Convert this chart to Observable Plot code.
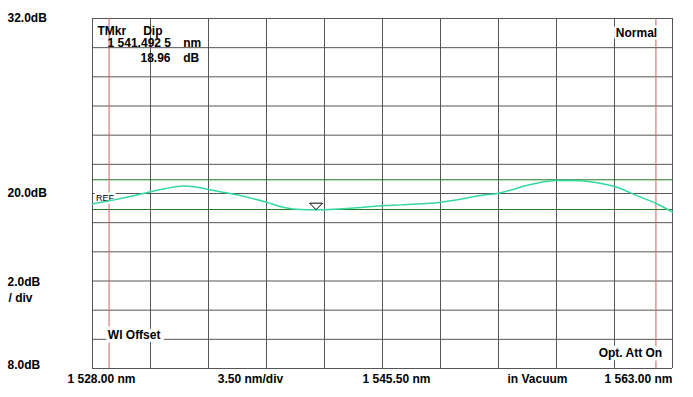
<!DOCTYPE html>
<html>
<head>
<meta charset="utf-8">
<script src="https://cdn.jsdelivr.net/npm/d3@7"></script>
<script src="https://cdn.jsdelivr.net/npm/@observablehq/plot@0.6"></script>
<style>
  html, body { margin: 0; padding: 0; background: #fff; }
  #chart svg { display: block; }
</style>
</head>
<body>
<div id="chart"></div>
<script>
// ---- data ----
const gridWavelengths = [1528, 1531.5, 1535, 1538.5, 1542, 1545.5, 1549, 1552.5, 1556, 1559.5, 1563];
const gridLevels = [8, 10, 12, 14, 16, 18, 20, 22, 24, 26, 28, 30, 32];
const markerLineWavelengths = [1529, 1562];
const levelLinesDb = [20.94, 18.9];

const traceWavelength = [1528.00, 1529.09, 1530.29, 1531.50, 1532.41, 1533.49, 1534.22, 1535.00,
  1536.93, 1538.50, 1539.65, 1540.55, 1541.52, 1542.00, 1543.57, 1545.68, 1546.59, 1549.00,
  1550.21, 1551.41, 1552.50, 1554.43, 1556.00, 1557.45, 1558.35, 1559.50, 1561.07, 1561.98, 1563.00];
const traceLevel = [19.28, 19.52, 19.79, 20.12, 20.34, 20.51, 20.45, 20.27,
  19.86, 19.40, 19.02, 18.90, 18.88, 18.89, 18.99, 19.18, 19.22, 19.40,
  19.61, 19.86, 20.02, 20.62, 20.89, 20.87, 20.75, 20.48, 19.75, 19.33, 18.72];

const dipWavelength = [1541.4925];
const dipLevel = [18.96];

const leftTickValues = [32, 20];
const leftTickLabels = ["32.0dB", "20.0dB"];
const bottomLevelLabel = ["8.0dB"];
const scaleLabels = ["2.0dB", "/ div"];
const bottomLabels = ["1 528.00 nm", "3.50 nm/div", "1 545.50 nm", "in Vacuum", "1 563.00 nm"];
const markerTexts = ["TMkr", "Dip", "1 541.492 5", "nm", "18.96", "dB"];
const statusTexts = ["Normal", "Wl Offset", "Opt. Att On", "REF"];

// ---- build ----
const trace = traceWavelength.map((w, i) => ({w, db: traceLevel[i]}));
const dip = dipWavelength.map((w, i) => ({w, db: dipLevel[i]}));

const GRID = "#555555";
const GREEN = "#1f7a1f";
const TRACE = "#33d9a0";
const RED = "#d06060";

const downTriangle = {
  draw(ctx) {
    ctx.moveTo(-6.5, -6.5);
    ctx.lineTo(6.5, -6.5);
    ctx.lineTo(0, 0);
    ctx.closePath();
  }
};

const bottomDx = [9, 158, 304, 445, 546];

const chart = Plot.plot({
  width: 693,
  height: 397,
  marginLeft: 92,
  marginRight: 21,
  marginTop: 18,
  marginBottom: 29,
  x: {domain: [1528, 1563], axis: null},
  y: {domain: [8, 32], axis: null},
  style: {
    fontFamily: "'Liberation Sans', Arial, sans-serif",
    fontSize: "12px",
    fontWeight: "bold",
    background: "#fff",
    color: "#000"
  },
  marks: [
    Plot.ruleX(gridWavelengths, {stroke: GRID}),
    Plot.ruleY(gridLevels, {stroke: GRID}),
    Plot.ruleY(levelLinesDb, {stroke: GREEN}),
    Plot.ruleX(markerLineWavelengths, {stroke: RED}),
    // REF label with white box
    Plot.text([statusTexts[3]], {frameAnchor: "left", y: () => 20, text: d => d, dx: 3.5, dy: 5,
      textAnchor: "start", fontSize: 9, fontWeight: "normal", stroke: "#fff", strokeWidth: 5, fill: "#000"}),
    Plot.line(trace, {x: "w", y: "db", stroke: TRACE, strokeWidth: 1.5, curve: "monotone-x"}),
    Plot.dot(dip, {x: "w", y: "db", symbol: downTriangle, stroke: "#000", fill: "none", strokeWidth: 1, dy: 1}),
    // left level labels
    Plot.text(leftTickValues, {y: d => d, frameAnchor: "left", dx: -85, textAnchor: "start",
      text: (d, i) => leftTickLabels[i], fill: "#000"}),
    Plot.text(bottomLevelLabel, {y: () => 8, frameAnchor: "left", dx: -85, dy: -3, textAnchor: "start",
      text: d => d, fill: "#000"}),
    Plot.text([scaleLabels[0]], {frameAnchor: "left", y: () => 14, dx: -85, dy: 1, textAnchor: "start", text: d => d}),
    Plot.text([scaleLabels[1]], {frameAnchor: "left", y: () => 14, dx: -84, dy: 17, textAnchor: "start", text: d => d}),
    // bottom labels
    ...bottomLabels.map((t, i) => Plot.text([t], {frameAnchor: "bottom-left", dx: bottomDx[i], dy: 14.5,
      textAnchor: "middle", text: d => d})),
    // marker readout
    Plot.text([markerTexts[0]], {frameAnchor: "top-left", dx: 5, dy: 8, textAnchor: "start", text: d => d}),
    Plot.text([markerTexts[1]], {frameAnchor: "top-left", dx: 50.7, dy: 8, textAnchor: "start", text: d => d}),
    Plot.text([markerTexts[2]], {frameAnchor: "top-left", dx: 78.5, dy: 20, textAnchor: "end", text: d => d}),
    Plot.text([markerTexts[3]], {frameAnchor: "top-left", dx: 90.7, dy: 20, textAnchor: "start", text: d => d}),
    Plot.text([markerTexts[4]], {frameAnchor: "top-left", dx: 78, dy: 35, textAnchor: "end", text: d => d}),
    Plot.text([markerTexts[5]], {frameAnchor: "top-left", dx: 90.7, dy: 35, textAnchor: "start", text: d => d}),
    // status texts with white boxes
    Plot.text([statusTexts[0]], {frameAnchor: "top-right", dx: -15.3, dy: 10, textAnchor: "end", text: d => d,
      stroke: "#fff", strokeWidth: 5, fill: "#000"}),
    Plot.text([statusTexts[1]], {frameAnchor: "bottom-left", dx: 15.3, dy: -29.7, textAnchor: "start", text: d => d,
      stroke: "#fff", strokeWidth: 7, fill: "#000"}),
    Plot.text([statusTexts[2]], {frameAnchor: "bottom-right", dx: -10.3, dy: -12, textAnchor: "end", text: d => d,
      stroke: "#fff", strokeWidth: 7, fill: "#000"})
  ]
});
document.getElementById("chart").appendChild(chart);
</script>
</body>
</html>
